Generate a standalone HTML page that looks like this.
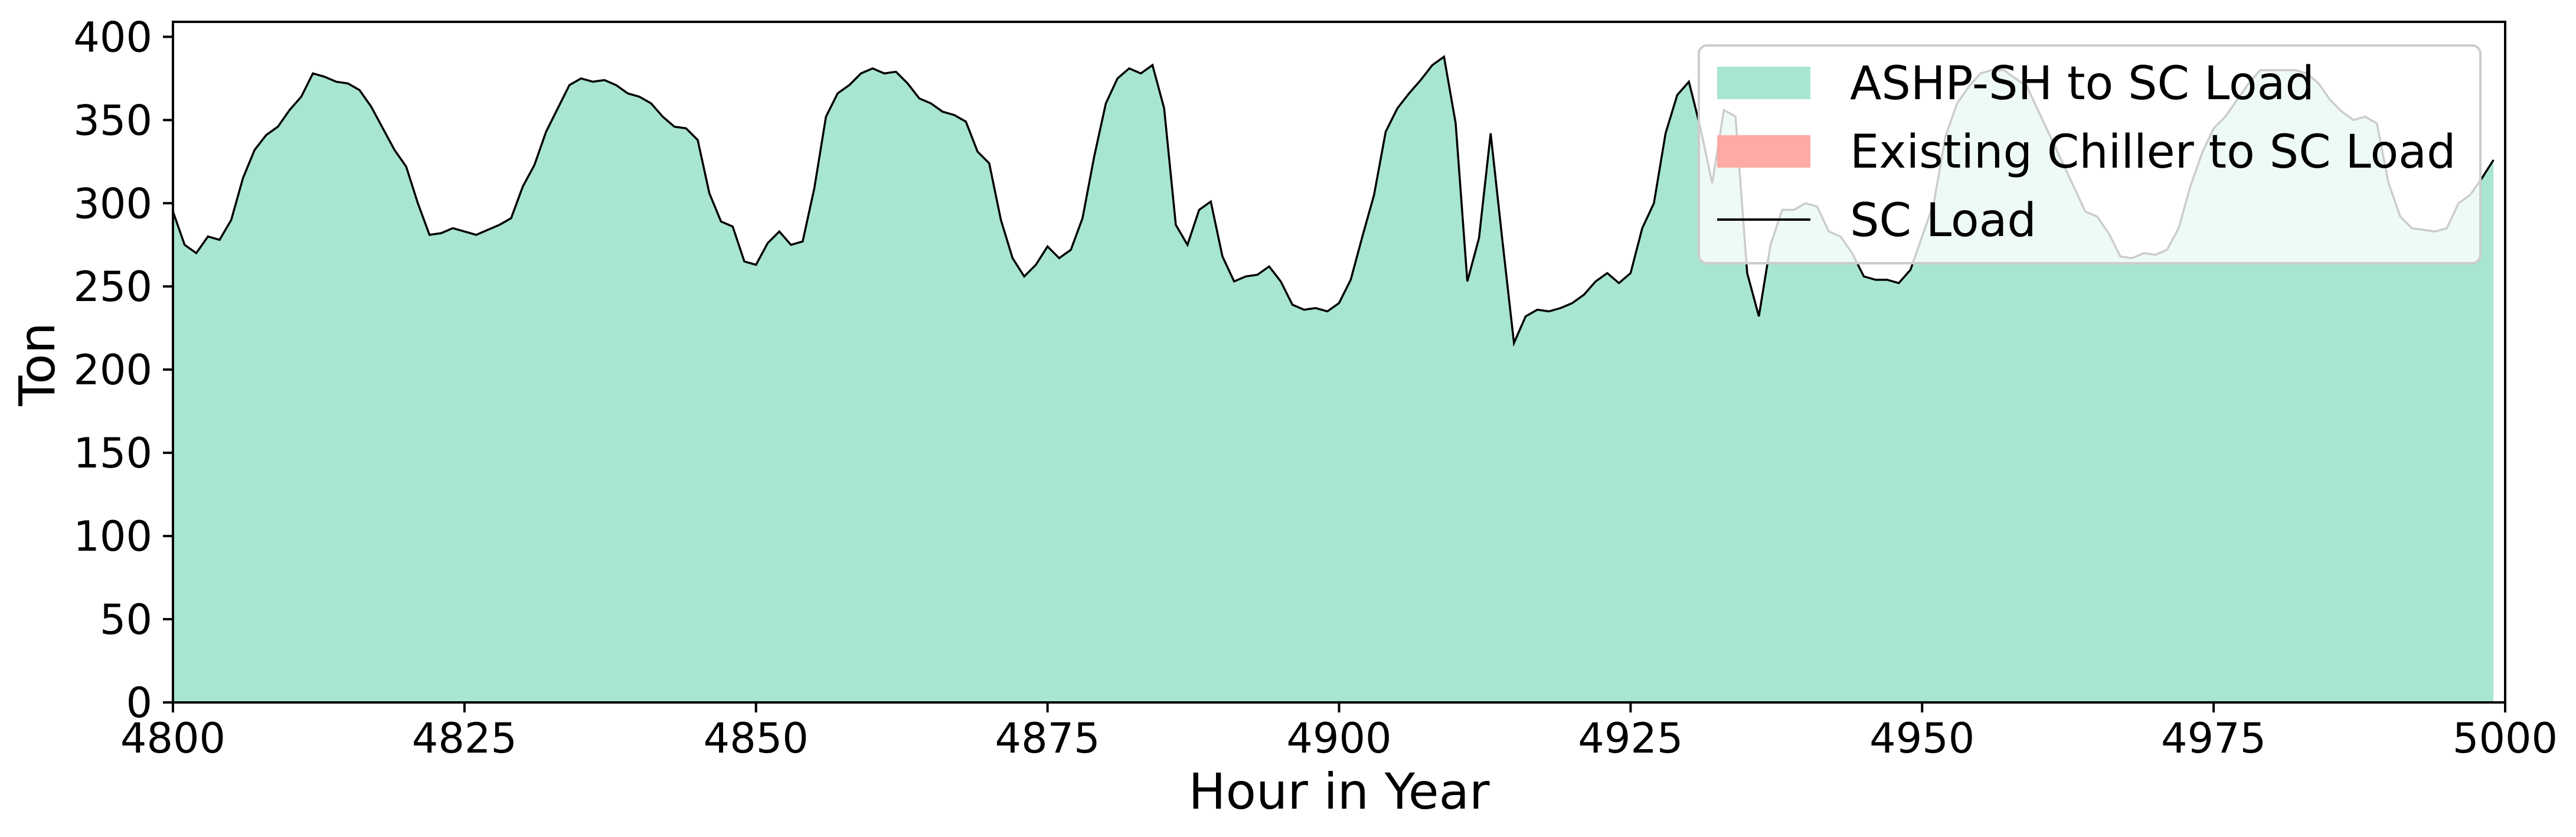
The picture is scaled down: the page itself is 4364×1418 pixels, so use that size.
<!DOCTYPE html>
<html><head><meta charset="utf-8"><style>
html,body{margin:0;padding:0;background:#fff;}
svg{display:block;font-family:"DejaVu Sans","Liberation Sans",sans-serif;}
</style></head><body>
<svg id="chart" width="4364" height="1418" viewBox="0 0 4364 1418" xmlns="http://www.w3.org/2000/svg">
<g id="plot"></g>
<g id="axes"></g>
<g id="legend">
  <rect x="2878" y="77" width="1324" height="369" rx="14" fill="#fff" fill-opacity="0.8" stroke="#cccccc" stroke-width="4"/>
  <rect x="2909" y="113" width="158" height="55" fill="#a8e6cf"/>
  <text x="3134" y="168" font-size="78">ASHP-SH to SC Load</text>
  <rect x="2909" y="229" width="158" height="55" fill="#ffaaa5"/>
  <text x="3134" y="284" font-size="78">Existing Chiller to SC Load</text>
  <line x1="2909" y1="372" x2="3067" y2="372" stroke="#000" stroke-width="4"/>
  <text x="3134" y="400" font-size="78">SC Load</text>
</g>
<script>
const hours = Array.from({length:200},(_,i)=>4800+i);
const scLoad = [295,275,270,280,278,290,315,332,341,346,356,364,378,376,373,372,368,358,345,332,322,300,281,282,285,283,281,284,287,291,310,323,343,357,371,375,373,374,371,366,364,360,352,346,345,338,306,289,286,265,263,276,283,275,277,309,352,366,371,378,381,378,379,372,363,360,355,353,349,331,324,290,267,256,263,274,267,272,291,328,360,375,381,378,383,357,287,275,296,301,268,253,256,257,262,253,239,236,237,235,240,254,280,305,343,357,366,374,383,388,348,253,279,342,278,216,232,236,235,237,240,245,253,258,252,258,285,300,342,365,373,345,312,356,352,258,232,275,296,296,300,298,283,280,270,256,254,254,252,260,280,300,340,360,370,378,380,380,375,370,355,340,325,310,295,292,282,268,267,270,269,272,285,310,330,345,352,362,372,380,380,380,380,378,372,362,355,350,352,348,312,292,285,284,283,285,300,305,315,326];
const ashp = scLoad.slice();
const chiller = scLoad.map(()=>0);
const yTicks = [0,50,100,150,200,250,300,350,400];
const xTicks = [4800,4825,4850,4875,4900,4925,4950,4975,5000];

const L=293,R=4244,T=37,B=1190;
const xs = h => L + (h-4800)/(5000-4800)*(R-L);
const ys = v => B - v/409*(B-T);
const NS="http://www.w3.org/2000/svg";
const plot=document.getElementById('plot'), axes=document.getElementById('axes');
function mk(tag,attrs,parent){const e=document.createElementNS(NS,tag);for(const k in attrs)e.setAttribute(k,attrs[k]);parent.appendChild(e);return e;}

let d='M'+xs(hours[0])+','+ys(0);
hours.forEach((h,i)=>{d+=' L'+xs(h)+','+ys(ashp[i]);});
d+=' L'+xs(hours[hours.length-1])+','+ys(0)+' Z';
const area=mk('path',{d:d,fill:'#a8e6cf'},plot);



let d2='M'+xs(hours[0])+','+ys(ashp[0]+chiller[0]);
hours.forEach((h,i)=>{d2+=' L'+xs(h)+','+ys(ashp[i]+chiller[i]);});
for(let i=hours.length-1;i>=0;i--){d2+=' L'+xs(hours[i])+','+ys(ashp[i]);}
const ch=mk('path',{d:d2+' Z',fill:'#ffaaa5'},plot);



const pts=hours.map((h,i)=>xs(h)+','+ys(scLoad[i])).join(' ');
const ln=mk('polyline',{points:pts,fill:'none',stroke:'#000','stroke-width':3.5,'stroke-linejoin':'miter'},plot);



const fr=mk('rect',{x:L,y:T,width:R-L,height:B-T,fill:'none',stroke:'#000','stroke-width':4},axes);



yTicks.forEach(v=>{
  const t=mk('line',{x1:L-17,x2:L,y1:ys(v),y2:ys(v),stroke:'#000','stroke-width':4},axes);
  
  
  const tx=mk('text',{x:258,y:ys(v)+25,'font-size':70,'text-anchor':'end'},axes);
  tx.textContent=v;
  
  
});
xTicks.forEach(v=>{
  const t=mk('line',{x1:xs(v),x2:xs(v),y1:B,y2:B+17,stroke:'#000','stroke-width':4},axes);
  
  
  const tx=mk('text',{x:xs(v),y:1275,'font-size':70,'text-anchor':'middle'},axes);
  tx.textContent=v;
  
  
});
const xl=mk('text',{x:(L+R)/2,y:1370,'font-size':84,'text-anchor':'middle'},axes);
xl.textContent='Hour in Year';


const yl=mk('text',{x:0,y:0,'font-size':84,'text-anchor':'middle',transform:'translate(92,617) rotate(-90)'},axes);
yl.textContent='Ton';


</script>
</svg>
</body></html>
